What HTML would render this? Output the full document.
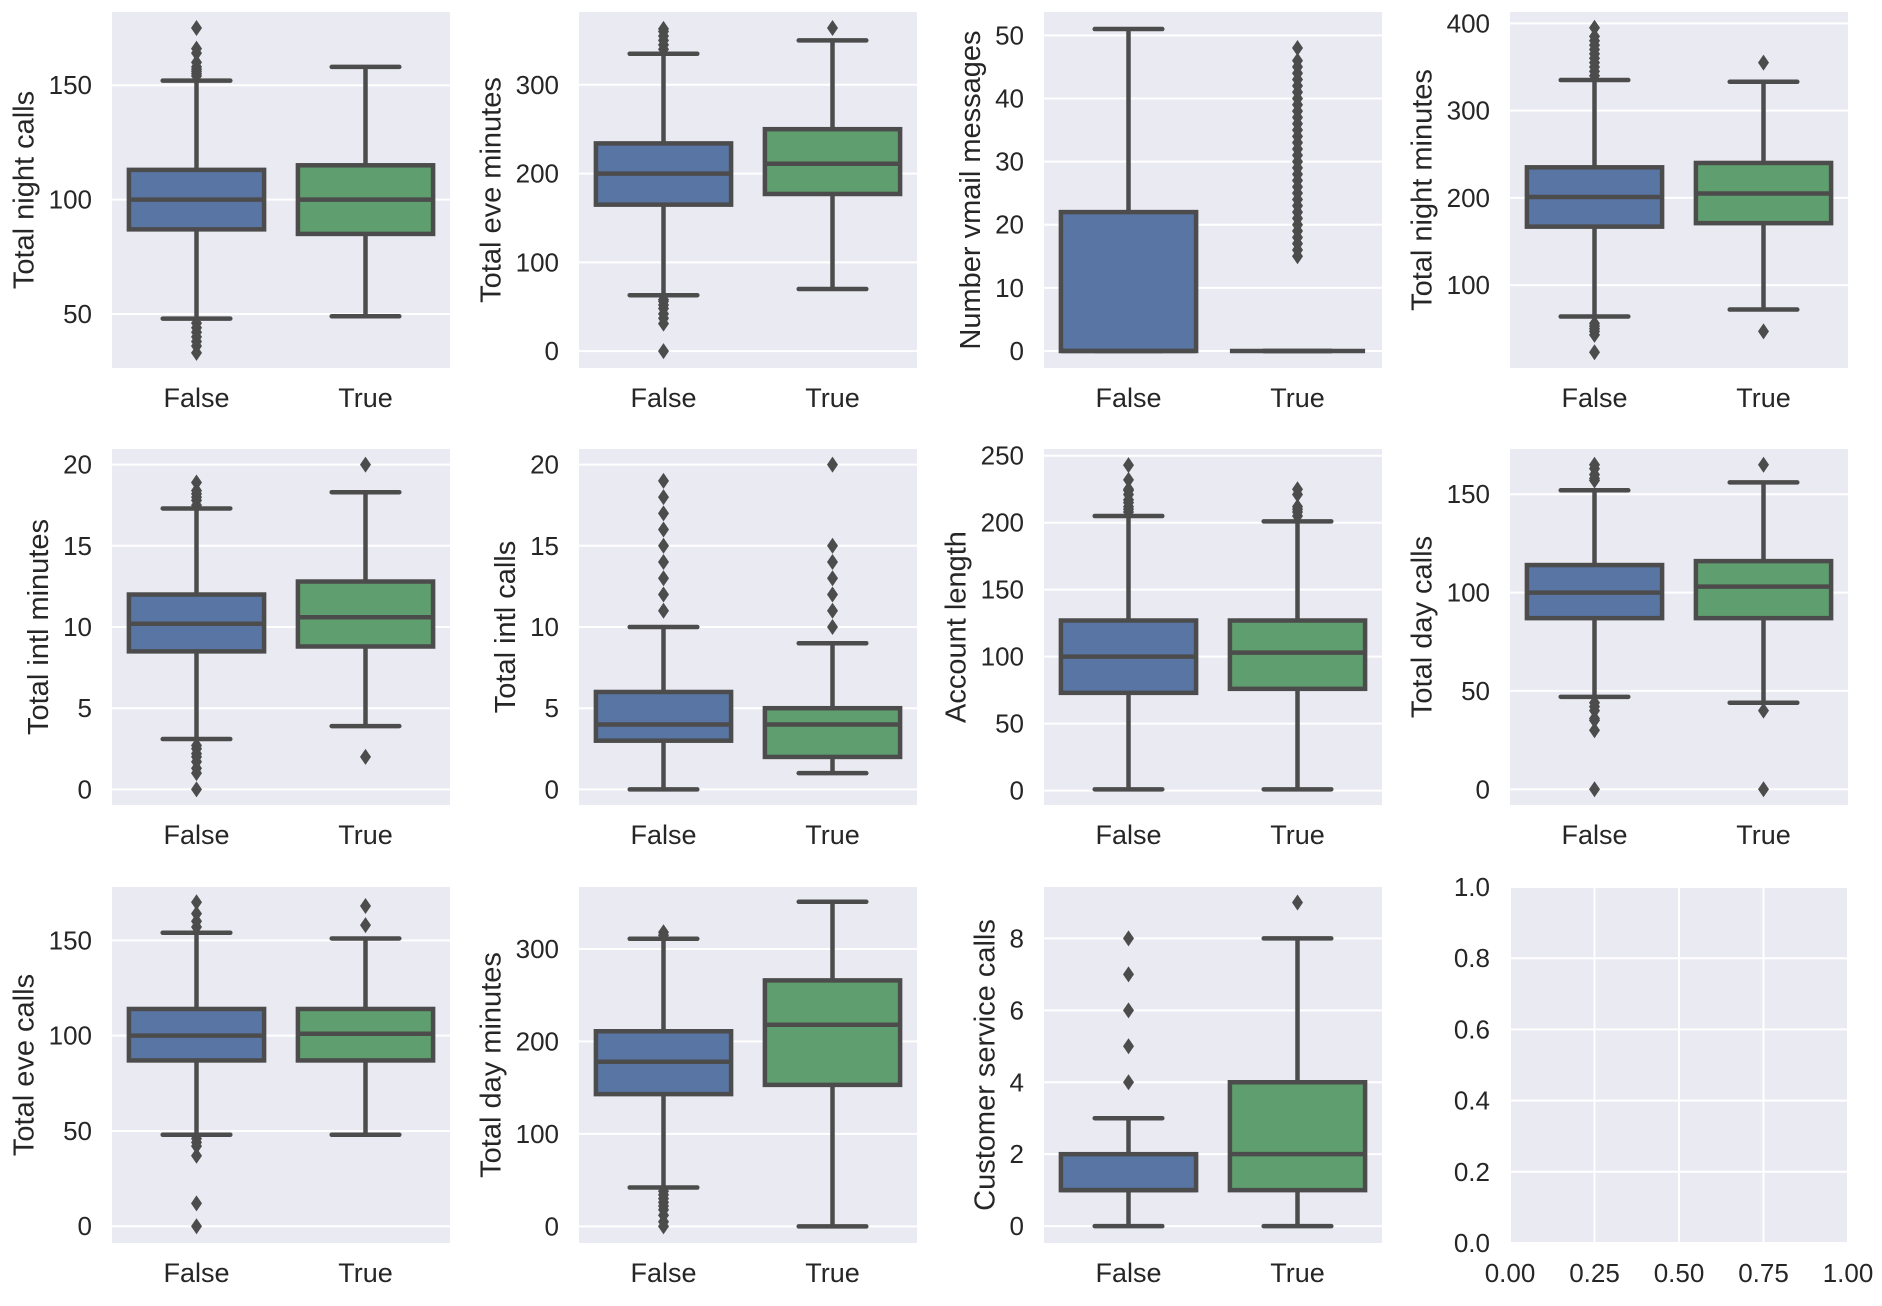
<!DOCTYPE html>
<html><head><meta charset="utf-8">
<style>
html,body{margin:0;padding:0;background:#fff;}
svg{display:block;font-family:"Liberation Sans",sans-serif;}
</style></head>
<body>
<svg id="fig" width="1882" height="1306" viewBox="0 0 1882 1306" xmlns="http://www.w3.org/2000/svg"></svg>
<script>
const yLabels = ["Total night calls","Total eve minutes","Number vmail messages","Total night minutes","Total intl minutes","Total intl calls","Account length","Total day calls","Total eve calls","Total day minutes","Customer service calls"];
const categories = ["False","True"];
const yDomains = [[26.4,182],[-19,382],[-2.7,53.7],[5,413],[-0.96,20.96],[-0.96,20.96],[-10.7,255],[-8,173],[-8.8,178],[-18,367],[-0.47,9.43]];
const yTicks = [[50,100,150],[0,100,200,300],[0,10,20,30,40,50],[100,200,300,400],[0,5,10,15,20],[0,5,10,15,20],[0,50,100,150,200,250],[0,50,100,150],[0,50,100,150],[0,100,200,300],[0,2,4,6,8]];
// [lowWhisker, q1, median, q3, highWhisker]
const falseStats = [[48,87,100,113,152],[63,165,200,234,335],[0,0,0,22,51],[64,167,201,235,335],[3.1,8.5,10.2,12,17.3],[0,3,4,6,10],[1,73,100,127,205],[47,87,100,114,152],[48,87,100,114,154],[42,143,178,211,311],[0,1,1,2,3]];
const trueStats = [[49,85,100,115,158],[70,177,211,250,350],[0,0,0,0,0],[72,171,205,240,333],[3.9,8.8,10.6,12.8,18.3],[1,2,4,5,9],[1,76,103,127,201],[44,87,103,116,156],[48,87,101,114,151],[0,153,218,266,351],[0,1,2,4,8]];
const falseOutliers = [[154,155,156,157,158,160,164,166,175,33,36,38,40,42,44,46],[340,345,350,355,360,363,0,31,37,42,48,52,56,58],[],[340,345,350,355,360,365,370,375,380,385,395,23,43,47,50,53,56],[17.5,17.8,18,18.2,18.4,18.9,0,1,1.3,1.7,2,2.2,2.5,2.7],[11,12,13,14,15,16,17,18,19],[208,210,212,215,217,221,224,225,232,243],[157,158,160,163,165,0,30,35,36,40,42,44],[157,160,164,170,0,12,37,42,44,46],[315,318,0,5,12,18,22,26,30,34,38],[4,5,6,7,8]];
const trueOutliers = [[],[364],[15,16,17,18,19,20,21,22,23,24,25,26,27,28,29,30,31,32,33,34,35,36,37,38,39,40,41,42,43,44,45,46,48],[355,47],[20,2],[10,11,12,13,14,15,20],[205,208,210,212,221,225],[165,40,0],[158,168],[],[9]];
const emptyTicks = [0.0,0.2,0.4,0.6,0.8,1.0];
const emptyTickLabels = ["0.0","0.2","0.4","0.6","0.8","1.0"];
const emptyXTickLabels = ["0.00","0.25","0.50","0.75","1.00"];
const emptyXTicks = [0,0.25,0.5,0.75,1];

const NS="http://www.w3.org/2000/svg";
const svg=document.getElementById('fig');
const colX=[112,579,1044,1510], rowY=[12,449,887], W=338, H=356;
const boxColors=["#5875a4","#5f9e6e"], LC="#4c4c4c";
const TF=26, XF=27, LF=29;
function mk(tag,attrs,parent){const e=document.createElementNS(NS,tag);for(const k in attrs)e.setAttribute(k,attrs[k]);(parent||svg).appendChild(e);return e;}

for(let p=0;p<12;p++){
  const x0=colX[p%4], y0=rowY[Math.floor(p/4)];
  const g=mk('g',{});
  
  
  const bg=mk('rect',{x:x0,y:y0,width:W,height:H,fill:'#eaeaf2'},g);
  
  
  if(p===11){
    const ys=v=>y0+H-v*H, xs=v=>x0+v*W;
    emptyTicks.forEach((t,i)=>{
      const l=mk('line',{x1:x0,x2:x0+W,y1:ys(t),y2:ys(t),stroke:'#fff','stroke-width':2},g);
      
      
      const tx=mk('text',{x:x0-20,y:ys(t)+9,'font-size':TF,'text-anchor':'end',fill:'#262626'},g);
      tx.textContent=emptyTickLabels[i];
      
      
    });
    emptyXTicks.forEach((t,i)=>{
      const l=mk('line',{y1:y0,y2:y0+H,x1:xs(t),x2:xs(t),stroke:'#fff','stroke-width':2},g);
      
      
      const tx=mk('text',{x:xs(t),y:y0+H+39,'font-size':TF,'text-anchor':'middle',fill:'#262626'},g);
      tx.textContent=emptyXTickLabels[i];
      
      
    });
    continue;
  }
  const [d0,d1]=yDomains[p];
  const ys=v=>y0+H-(v-d0)/(d1-d0)*H;
  const xc=i=>x0+W*(0.25+0.5*i);
  yTicks[p].forEach(t=>{
    const l=mk('line',{x1:x0,x2:x0+W,y1:ys(t),y2:ys(t),stroke:'#fff','stroke-width':2},g);
    
    
    const tx=mk('text',{x:x0-20,y:ys(t)+9,'font-size':TF,'text-anchor':'end',fill:'#262626'},g);
    tx.textContent=String(t);
    
    
  });
  const maxLen=Math.max(...yTicks[p].map(t=>String(t).length));
  const lx=x0-20-maxLen*14.5-15;
  const yl=mk('text',{x:lx,y:y0+H/2,'font-size':LF,'text-anchor':'middle',fill:'#262626',transform:`rotate(-90 ${lx} ${y0+H/2})`},g);
  yl.textContent=yLabels[p];
  
  
  categories.forEach((c,i)=>{
    const tx=mk('text',{x:xc(i),y:y0+H+39,'font-size':XF,'text-anchor':'middle',fill:'#262626'},g);
    tx.textContent=c;
    
    
    const s=(i===0?falseStats:trueStats)[p];
    const out=(i===0?falseOutliers:trueOutliers)[p];
    const cx=xc(i), bw=W*0.4, cw=bw/2;
    const bg2=mk('g',{},g);
    
    
    mk('line',{x1:cx,x2:cx,y1:ys(s[0]),y2:ys(s[1]),stroke:LC,'stroke-width':4.5},bg2);
    mk('line',{x1:cx,x2:cx,y1:ys(s[3]),y2:ys(s[4]),stroke:LC,'stroke-width':4.5},bg2);
    mk('line',{x1:cx-cw/2,x2:cx+cw/2,y1:ys(s[0]),y2:ys(s[0]),stroke:LC,'stroke-width':4.5,'stroke-linecap':'round'},bg2);
    mk('line',{x1:cx-cw/2,x2:cx+cw/2,y1:ys(s[4]),y2:ys(s[4]),stroke:LC,'stroke-width':4.5,'stroke-linecap':'round'},bg2);
    mk('rect',{x:cx-bw/2,y:ys(s[3]),width:bw,height:Math.max(0,ys(s[1])-ys(s[3])),fill:boxColors[i],stroke:LC,'stroke-width':4.5},bg2);
    mk('line',{x1:cx-bw/2,x2:cx+bw/2,y1:ys(s[2]),y2:ys(s[2]),stroke:LC,'stroke-width':4.5},bg2);
    out.forEach(v=>{
      const y=ys(v);
      const d=mk('polygon',{points:`${cx},${y-8} ${cx+5.5},${y} ${cx},${y+8} ${cx-5.5},${y}`,fill:LC},bg2);
      
      
    });
  });
}
</script>
</body></html>
